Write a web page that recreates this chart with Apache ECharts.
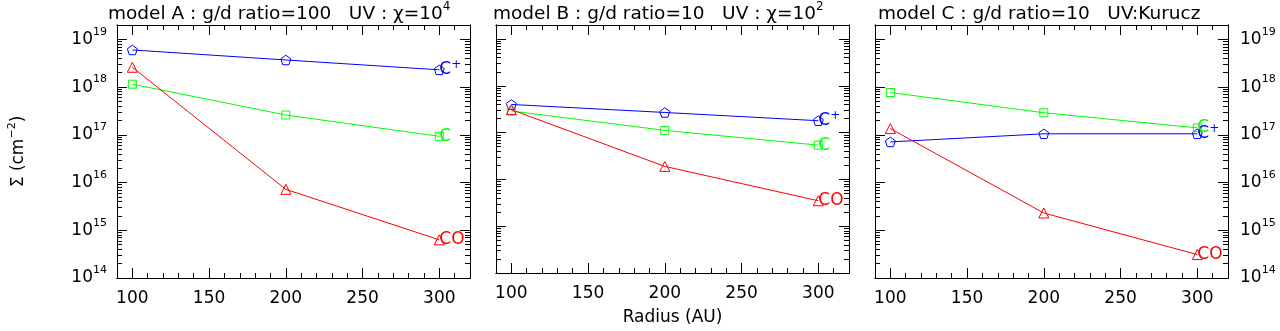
<!DOCTYPE html>
<html>
<head>
<meta charset="utf-8">
<script src="https://cdn.jsdelivr.net/npm/echarts@6.0.0/dist/echarts.min.js"></script>
<style>
  html, body { margin: 0; padding: 0; background: #fff; }
  #chart { width: 1280px; height: 331px; }
</style>
</head>
<body>
<div id="chart"></div>
<script>
// radius of the sampled points (AU)
const radius = [100, 200, 300];

// column densities (cm^-2), one array per species and model
const cPlusA = [6.0e18, 3.7e18, 2.3e18];
const cA = [1.15e18, 2.6e17, 9.3e16];
const coA = [2.6e18, 7.2e15, 6.3e14];

const cPlusB = [4.0e17, 2.7e17, 1.8e17];
const cB = [2.9e17, 1.12e17, 5.4e16];
const coB = [3.1e17, 1.9e16, 3.5e15];

const cPlusC = [7.1e16, 1.05e17, 1.05e17];
const cC = [7.7e17, 2.9e17, 1.4e17];
const coC = [1.35e17, 2.3e15, 3.1e14];

const panelTitles = [
  ["model A : g/d ratio=100   UV : χ=10", "4"],
  ["model B : g/d ratio=10   UV : χ=10", "2"],
  ["model C : g/d ratio=10   UV:Kurucz", ""],
];

// tick values
const xMajor = [100, 150, 200, 250, 300];
const xMinor = [100, 110, 120, 130, 140, 150, 160, 170, 180, 190, 200,
  210, 220, 230, 240, 250, 260, 270, 280, 290, 300, 310];
const decades = [14, 15, 16, 17, 18, 19];
const mantissas = [2, 3, 4, 5, 6, 7, 8, 9];
const yMajor = decades.map(d => Math.pow(10, d));
const yMinor = [];
decades.forEach(d => mantissas.forEach(m => yMinor.push(m * Math.pow(10, d))));

const BLUE = "#0000ff";
const GREEN = "#00ff00";
const RED = "#ff0000";
const FONT = "DejaVu Sans";
const TICK = "#000";

const pentagon = "path://M0,-10L9.51,-3.09L5.88,8.09L-5.88,8.09L-9.51,-3.09Z";

const lefts = [117, 496, 875];
const gridW = 353;
const gridH = 253;
const gridTop = 25;
const titleLefts = [108, 493, 878];

const grids = [];
const xAxes = [];
const yAxes = [];
const titles = [];
const series = [];

const powLabel = v => "{b|10}{e|" + Math.round(Math.log10(v)) + "}";

function xAxis(i, pos, ticks, len, labels) {
  return {
    type: "value", gridIndex: i, min: 90, max: 320, position: pos,
    axisLine: { show: true, lineStyle: { color: "#000", width: 1 } },
    splitLine: { show: false },
    axisTick: { show: true, inside: true, length: len, customValues: ticks,
      lineStyle: { color: TICK, width: 1 } },
    axisLabel: { show: labels, customValues: ticks, margin: 12,
      fontSize: 17, fontFamily: FONT, color: "#000" },
  };
}

function yAxis(i, pos, ticks, len, labels) {
  return {
    type: "log", gridIndex: i, min: 1e14, max: 2e19, position: pos,
    axisLine: { show: true, lineStyle: { color: "#000", width: 1 } },
    splitLine: { show: false },
    axisTick: { show: true, inside: true, length: len, customValues: ticks,
      lineStyle: { color: TICK, width: 1 } },
    axisLabel: { show: labels, customValues: ticks, margin: pos === "left" ? 10 : 12,
      formatter: powLabel, rich: {
        b: { fontSize: 17, fontFamily: FONT, color: "#000", lineHeight: 26 },
        e: { fontSize: 11, fontFamily: FONT, color: "#000", verticalAlign: "top", lineHeight: 11 },
      } },
  };
}

function endLabel(text, sup, color) {
  return {
    show: true, distance: 0,
    formatter: sup ? "{a|" + text + "}{s|" + sup + "}" : "{a|" + text + "}",
    rich: {
      a: { fontSize: 17, fontFamily: FONT, color: color, lineHeight: 22 },
      s: { fontSize: 12, fontFamily: FONT, color: color, verticalAlign: "top", lineHeight: 12 },
    },
  };
}

function lineSeries(i, name, vals, color, symbol, size, label, sup) {
  return {
    name: name, type: "line", xAxisIndex: 4 * i, yAxisIndex: 4 * i,
    data: radius.map((r, k) => [r, vals[k]]),
    symbol: symbol, symbolSize: size, symbolKeepAspect: true,
    lineStyle: { color: color, width: 1 },
    itemStyle: { color: "rgba(255,255,255,0)", borderColor: color, borderWidth: 1 },
    endLabel: endLabel(label, sup, color),
    emphasis: { disabled: true },
  };
}

const panels = [
  [cPlusA, cA, coA],
  [cPlusB, cB, coB],
  [cPlusC, cC, coC],
];

panels.forEach((p, i) => {
  grids.push({ left: lefts[i], top: gridTop, width: gridW, height: gridH });

  const bx = xAxis(i, "bottom", xMajor, 10, true);
  if (i === 1) {
    bx.name = "Radius (AU)";
    bx.nameLocation = "middle";
    bx.nameGap = 36;
    bx.nameTextStyle = { fontSize: 17, fontFamily: FONT, color: "#000" };
  }
  xAxes.push(bx, xAxis(i, "bottom", xMinor, 5, false),
    xAxis(i, "top", xMajor, 10, false), xAxis(i, "top", xMinor, 5, false));

  const ly = yAxis(i, "left", yMajor, 10, i === 0);
  if (i === 0) {
    ly.name = "{a|Σ (cm}{s|−2}{a|)}";
    ly.nameLocation = "middle";
    ly.nameRotate = 90;
    ly.nameGap = 86;
    ly.nameTextStyle = { rich: {
      a: { fontSize: 17, fontFamily: FONT, color: "#000", lineHeight: 24 },
      s: { fontSize: 11, fontFamily: FONT, color: "#000", verticalAlign: "top", lineHeight: 11 },
    } };
  }
  yAxes.push(ly, yAxis(i, "left", yMinor, 5, false),
    yAxis(i, "right", yMajor, 10, i === 2), yAxis(i, "right", yMinor, 5, false));

  titles.push({
    text: "{t|" + panelTitles[i][0] + "}" + (panelTitles[i][1] ? "{s|" + panelTitles[i][1] + "}" : ""),
    left: titleLefts[i], top: 1, padding: 0,
    textStyle: { rich: {
      t: { fontSize: 18.5, fontWeight: "normal", fontFamily: FONT, color: "#000", lineHeight: 26 },
      s: { fontSize: 12, fontWeight: "normal", fontFamily: FONT, color: "#000", verticalAlign: "top", lineHeight: 12 },
    } },
  });

  series.push(
    lineSeries(i, "C+", p[0], BLUE, pentagon, 10, "C", "+"),
    lineSeries(i, "C", p[1], GREEN, "rect", 8, "C", ""),
    lineSeries(i, "CO", p[2], RED, "triangle", 10, "CO", "")
  );
});

const chart = echarts.init(document.getElementById("chart"));
chart.setOption({
  animation: false,
  backgroundColor: "#fff",
  title: titles,
  grid: grids,
  xAxis: xAxes,
  yAxis: yAxes,
  series: series,
});
</script>
</body>
</html>
